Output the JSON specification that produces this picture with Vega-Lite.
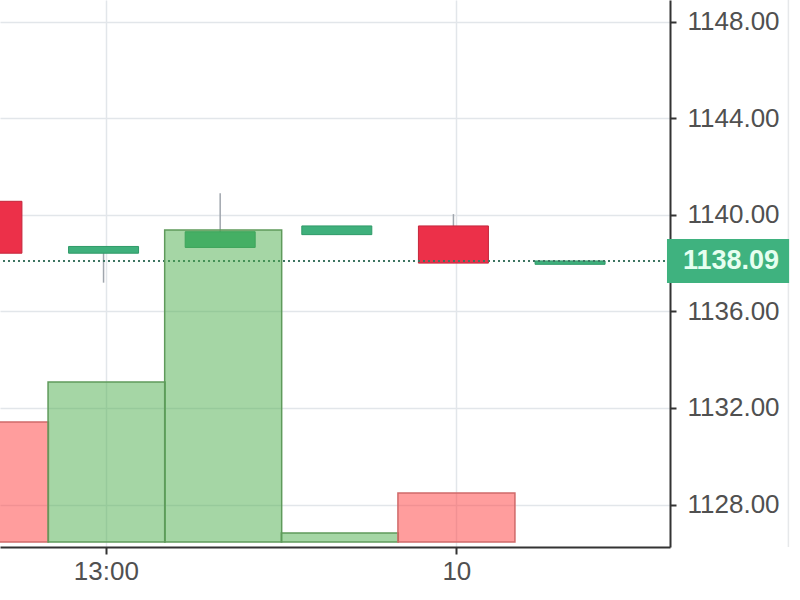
{
  "$schema": "https://vega.github.io/schema/vega-lite/v6.json",
  "width": 670,
  "height": 547,
  "autosize": "none",
  "padding": {"left": 0, "top": 0, "right": 130, "bottom": 53},
  "background": "white",
  "config": {
    "view": {"stroke": null},
    "font": "Liberation Sans",
    "axis": {
      "gridColor": "#e2e6ea",
      "gridWidth": 1.5,
      "domainColor": "#333333",
      "domainWidth": 2,
      "tickColor": "#333333",
      "tickWidth": 2,
      "labelFont": "Liberation Sans",
      "labelFontSize": 26,
      "labelColor": "#505050"
    }
  },
  "datasets": {
    "candles": [
      {"t": 0, "open": 1140.56, "close": 1138.41, "high": 1140.56, "low": 1138.41, "volume": 1200, "dir": "down"},
      {"t": 1, "open": 1138.41, "close": 1138.69, "high": 1138.69, "low": 1137.19, "volume": 1600, "dir": "up"},
      {"t": 2, "open": 1138.65, "close": 1139.30, "high": 1140.89, "low": 1138.65, "volume": 3120, "dir": "up"},
      {"t": 3, "open": 1139.18, "close": 1139.54, "high": 1139.54, "low": 1139.18, "volume": 90, "dir": "up"},
      {"t": 4, "open": 1139.54, "close": 1138.00, "high": 1140.03, "low": 1138.00, "volume": 490, "dir": "down"},
      {"t": 5, "open": 1137.95, "close": 1138.09, "high": 1138.09, "low": 1137.95, "volume": null, "dir": "up"}
    ],
    "last": [{"price": 1138.09, "label": "1138.09"}]
  },
  "resolve": {"scale": {"y": "independent"}, "axis": {"y": "independent"}},
  "layer": [
    {
      "layer": [
        {
          "data": {"name": "candles"},
          "mark": {"type": "rule", "color": "#a0a6ad", "strokeWidth": 1.5, "clip": true},
          "encoding": {
            "x": {
              "field": "t", "type": "quantitative",
              "scale": {"domain": [0.155, 5.814], "nice": false, "zero": false},
              "axis": {
                "values": [1.02, 4.025],
                "labelExpr": "datum.value < 2 ? '13:00' : '10'",
                "grid": true,
                "tickSize": 7,
                "labelPadding": 4,
                "title": null
              }
            },
            "y": {
              "field": "low", "type": "quantitative",
              "scale": {"domain": [1126.45, 1148.69], "nice": false, "zero": false},
              "axis": {
                "orient": "right",
                "values": [1128, 1132, 1136, 1140, 1144, 1148],
                "format": ".2f",
                "grid": true,
                "tickSize": 6,
                "labelPadding": 11,
                "title": null
              }
            },
            "y2": {"field": "high"}
          }
        },
        {
          "data": {"name": "candles"},
          "mark": {"type": "bar", "width": 70, "strokeWidth": 1, "clip": true},
          "encoding": {
            "x": {"field": "t", "type": "quantitative", "title": null},
            "y": {"field": "open", "type": "quantitative", "title": null},
            "y2": {"field": "close"},
            "fill": {"condition": {"test": "datum.dir == 'up'", "value": "#3fb07c"}, "value": "#ec3049"},
            "stroke": {"condition": {"test": "datum.dir == 'up'", "value": "#2f9a68"}, "value": "#c4263b"}
          }
        },
        {
          "data": {"name": "last"},
          "mark": {"type": "rule", "color": "#3d7562", "strokeWidth": 2, "strokeDash": [2, 3]},
          "encoding": {
            "y": {"field": "price", "type": "quantitative", "title": null}
          }
        },
        {
          "data": {"name": "last"},
          "mark": {"type": "rule", "color": "#e6e8ea", "strokeWidth": 1.5, "clip": false},
          "encoding": {
            "x": {"datum": 6.872, "type": "quantitative"}
          }
        },
        {
          "data": {"name": "last"},
          "mark": {"type": "bar", "height": 44, "color": "#3fb27f", "clip": false},
          "encoding": {
            "x": {"datum": 5.831, "type": "quantitative"},
            "x2": {"datum": 6.878},
            "y": {"field": "price", "type": "quantitative", "title": null}
          }
        },
        {
          "data": {"name": "last"},
          "mark": {"type": "text", "fontSize": 27, "fontWeight": "bold", "color": "#e6fff0", "align": "center", "baseline": "middle", "font": "Liberation Sans", "clip": false},
          "encoding": {
            "x": {"datum": 6.38, "type": "quantitative"},
            "y": {"field": "price", "type": "quantitative", "title": null},
            "text": {"field": "label"}
          }
        }
      ]
    },
    {
      "data": {"name": "candles"},
      "mark": {"type": "bar", "width": 117, "xOffset": 3, "strokeWidth": 1.5, "fillOpacity": 0.5, "clip": true},
      "encoding": {
        "x": {"field": "t", "type": "quantitative", "title": null},
        "y": {
          "field": "volume", "type": "quantitative",
          "scale": {"domain": [-50, 5420], "nice": false, "zero": false},
          "axis": null
        },
        "fill": {"condition": {"test": "datum.dir == 'up'", "value": "#4cae4c"}, "value": "#ff3b3b"},
        "stroke": {"condition": {"test": "datum.dir == 'up'", "value": "#5f9a5b"}, "value": "#d06a6a"}
      }
    }
  ]
}
